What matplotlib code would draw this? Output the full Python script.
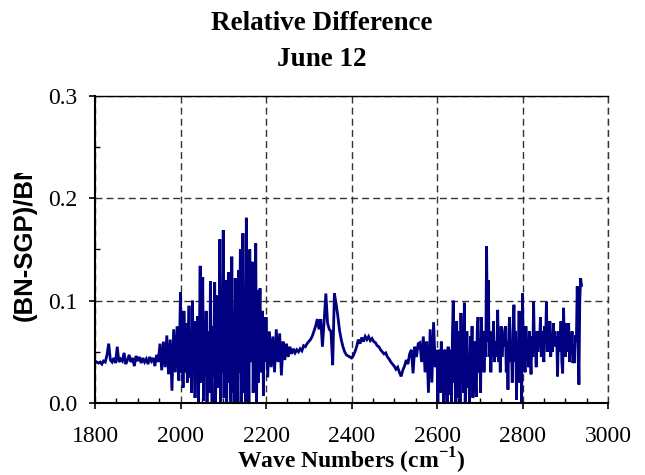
import numpy as np
import matplotlib
matplotlib.use("Agg")
import matplotlib.pyplot as plt
from matplotlib.patches import Rectangle
from matplotlib.ticker import MultipleLocator, FormatStrFormatter

plt.rcParams['mathtext.fontset'] = 'custom'
plt.rcParams['mathtext.rm'] = 'Liberation Serif'
plt.rcParams['mathtext.bf'] = 'Liberation Serif:bold'

# ---- data (relative difference vs wave number, cm-1) ----
# 1800-1996 cm-1, 4 cm-1 sampling
rel_diff_a = [
    0.041, 0.040, 0.039, 0.040, 0.038, 0.041, 0.040, 0.047, 0.058, 0.042,
    0.040, 0.044, 0.039, 0.055, 0.040, 0.043, 0.041, 0.049, 0.038, 0.042,
    0.047, 0.040, 0.044, 0.036, 0.046, 0.041, 0.045, 0.039, 0.044, 0.040,
    0.043, 0.038, 0.045, 0.041, 0.044, 0.036, 0.047, 0.040, 0.058, 0.032,
    0.060, 0.035, 0.066, 0.028, 0.062, 0.012, 0.072, 0.030, 0.075, 0.022,
]
# 2000-2198 cm-1, 2 cm-1 sampling
rel_diff_b = [
    0.108, 0.030, 0.070, 0.015, 0.090, 0.045, 0.030, 0.078, 0.020, 0.060,
    0.095, 0.025, 0.055, 0.010, 0.100, 0.040, 0.065, 0.005, 0.080, 0.030,
    0.085, 0.000, 0.060, 0.134, 0.020, 0.050, 0.123, 0.002, 0.070, 0.035,
    0.090, 0.000, 0.055, 0.070, 0.010, 0.119, 0.040, 0.000, 0.075, 0.025,
    0.118, 0.000, 0.060, 0.105, 0.015, 0.045, 0.160, 0.000, 0.080, 0.030,
    0.169, 0.005, 0.060, 0.120, 0.000, 0.070, 0.128, 0.020, 0.050, 0.000,
    0.143, 0.010, 0.065, 0.000, 0.122, 0.040, 0.085, 0.000, 0.130, 0.030,
    0.150, 0.000, 0.070, 0.166, 0.010, 0.055, 0.000, 0.181, 0.020, 0.090,
    0.000, 0.150, 0.040, 0.060, 0.138, 0.010, 0.080, 0.025, 0.156, 0.000,
    0.110, 0.020, 0.065, 0.112, 0.030, 0.050, 0.090, 0.007, 0.084, 0.040,
]
# 2200-2596 cm-1, 4 cm-1 sampling
rel_diff_c = [
    0.084, 0.025, 0.070, 0.035, 0.065, 0.030, 0.072, 0.040, 0.068, 0.027,
    0.060, 0.042, 0.058, 0.045, 0.055, 0.048, 0.053, 0.049, 0.052, 0.050,
    0.053, 0.051, 0.056, 0.055, 0.058, 0.060, 0.062, 0.065, 0.070, 0.075,
    0.082, 0.072, 0.082, 0.055, 0.080, 0.107, 0.078, 0.072, 0.070, 0.037,
    0.107, 0.097, 0.085, 0.071, 0.062, 0.055, 0.050, 0.047, 0.046, 0.045,
    0.044, 0.046, 0.050, 0.055, 0.062, 0.058, 0.064, 0.060, 0.065, 0.062,
    0.065, 0.061, 0.063, 0.060, 0.059, 0.056, 0.055, 0.052, 0.050, 0.048,
    0.049, 0.045, 0.043, 0.040, 0.038, 0.036, 0.033, 0.035, 0.030, 0.026,
    0.032, 0.036, 0.042, 0.038, 0.048, 0.052, 0.029, 0.055, 0.045, 0.058,
    0.059, 0.040, 0.065, 0.030, 0.060, 0.010, 0.072, 0.020, 0.079, 0.035,
]
# 2600-2938 cm-1, 2 cm-1 sampling
rel_diff_d = [
    0.052, 0.000, 0.045, 0.052, 0.010, 0.060, 0.030, 0.052, 0.000, 0.050,
    0.052, 0.020, 0.000, 0.055, 0.040, 0.008, 0.052, 0.000, 0.065, 0.100,
    0.020, 0.060, 0.000, 0.080, 0.035, 0.005, 0.070, 0.000, 0.088, 0.030,
    0.060, 0.010, 0.098, 0.000, 0.050, 0.070, 0.015, 0.040, 0.000, 0.065,
    0.030, 0.075, 0.005, 0.050, 0.060, 0.020, 0.006, 0.070, 0.084, 0.030,
    0.060, 0.010, 0.084, 0.040, 0.070, 0.030, 0.060, 0.045, 0.153, 0.060,
    0.120, 0.045, 0.070, 0.030, 0.060, 0.049, 0.080, 0.040, 0.060, 0.045,
    0.049, 0.091, 0.040, 0.065, 0.030, 0.075, 0.045, 0.060, 0.055, 0.070,
    0.075, 0.030, 0.060, 0.013, 0.070, 0.084, 0.040, 0.060, 0.020, 0.070,
    0.096, 0.040, 0.070, 0.003, 0.060, 0.035, 0.090, 0.020, 0.055, 0.000,
    0.107, 0.040, 0.060, 0.030, 0.075, 0.045, 0.060, 0.035, 0.070, 0.050,
    0.028, 0.065, 0.045, 0.099, 0.050, 0.060, 0.035, 0.070, 0.050, 0.065,
    0.060, 0.084, 0.045, 0.070, 0.055, 0.040, 0.075, 0.060, 0.099, 0.050,
    0.070, 0.058, 0.080, 0.045, 0.065, 0.050, 0.078, 0.060, 0.070, 0.055,
    0.065, 0.026, 0.070, 0.050, 0.055, 0.080, 0.040, 0.029, 0.093, 0.060,
    0.045, 0.078, 0.050, 0.065, 0.078, 0.040, 0.060, 0.050, 0.070, 0.039,
    0.050, 0.039, 0.066, 0.060, 0.114, 0.070, 0.018, 0.100, 0.122, 0.115,
]
wn_a = np.arange(1800, 2000, 4)
wn_b = np.arange(2000, 2200, 2)
wn_c = np.arange(2200, 2600, 4)
wn_d = np.arange(2600, 2940, 2)

wavenumbers = np.concatenate([wn_a, wn_b, wn_c, wn_d])
rel_diff = np.concatenate([rel_diff_a, rel_diff_b, rel_diff_c, rel_diff_d])

x_ticks = [1800, 2000, 2200, 2400, 2600, 2800, 3000]
y_ticks = [0.0, 0.1, 0.2, 0.3]

W, H = 645, 475
fig = plt.figure(figsize=(W / 100, H / 100), dpi=100)
ax = fig.add_axes([95 / W, 1 - 403 / H, (608 - 95) / W, (403 - 96) / H])

ax.plot(wavenumbers, rel_diff, color='#000080', lw=2.0, solid_joinstyle='miter')

ax.set_xlim(1800, 3000)
ax.set_ylim(0, 0.3)
ax.set_xticks(x_ticks)
ax.set_yticks(y_ticks)
ax.xaxis.set_minor_locator(MultipleLocator(50))
ax.yaxis.set_minor_locator(MultipleLocator(0.05))
ax.yaxis.set_major_formatter(FormatStrFormatter('%.1f'))

ax.grid(True, which='major', color='#333333', lw=1.0, linestyle=(0, (5, 3)))
ax.set_axisbelow(True)
ax.axvline(3000, color='#333333', lw=1.0, linestyle=(0, (5, 3)), clip_on=False)

for s in ['left', 'bottom']:
    ax.spines[s].set_linewidth(1.5)
ax.spines['top'].set_linewidth(1.0)
ax.spines['right'].set_visible(False)

ax.tick_params(axis='both', which='major', direction='out', length=4.5, width=1.2,
               top=False, right=False)
ax.tick_params(axis='both', which='minor', direction='in', length=3.5, width=1.0,
               top=False, right=False)
ax.tick_params(axis='x', which='major', pad=12)
ax.tick_params(axis='y', which='major', pad=8)
for lab in ax.get_xticklabels() + ax.get_yticklabels():
    lab.set_fontfamily('Liberation Serif')
    lab.set_fontsize(17)

fig.text(322 / W, 1 - 23 / H, 'Relative Difference', ha='center', va='center',
         family='Liberation Serif', weight='bold', size=19.5)
fig.text(322 / W, 1 - 59 / H, 'June 12', ha='center', va='center',
         family='Liberation Serif', weight='bold', size=19.5)

fig.text(351.5 / W, 1 - 461 / H, r'Wave Numbers (cm$^{\mathbf{-1}}$)', ha='center',
         va='center', family='Liberation Serif', weight='bold', size=17)

fig.text(25 / W, 1 - 321 / H, '(BN-SGP)/BN', rotation=90, ha='center', va='bottom',
         family='Liberation Sans', weight='bold', size=18.5, zorder=1)
# the label is cut off at its top in the reference
fig.add_artist(Rectangle((0, 1 - 173 / H), 42 / W, 173 / H, transform=fig.transFigure,
                         facecolor='white', edgecolor='none', zorder=5))

fig.savefig('out.png', dpi=100)
